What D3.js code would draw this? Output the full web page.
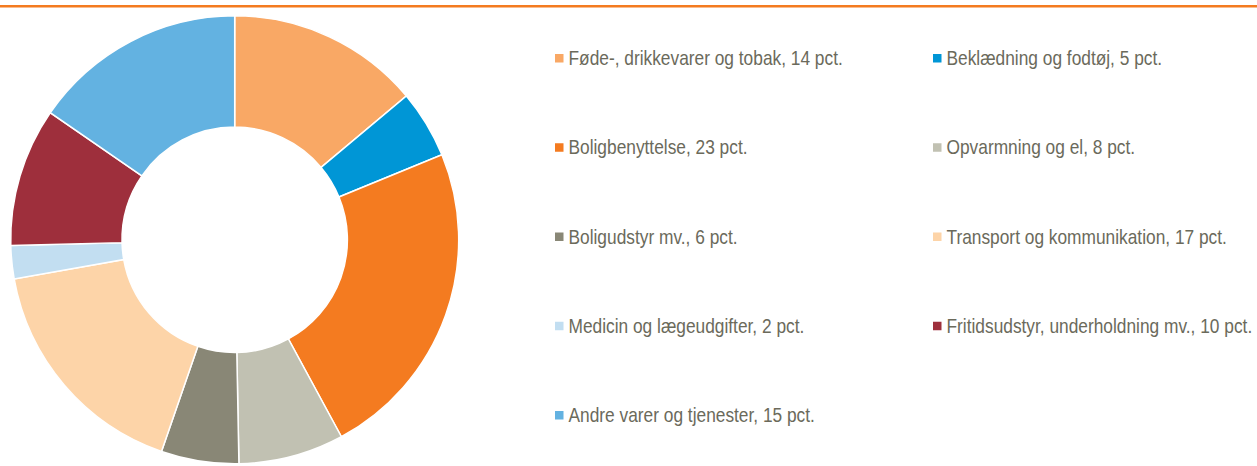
<!DOCTYPE html>
<html>
<head>
<meta charset="utf-8">
<script src="https://cdn.jsdelivr.net/npm/d3@7"></script>
<style>
  body { margin: 0; background: #fff; }
  .legend text { font-family: "Liberation Sans", Arial, sans-serif; }
</style>
</head>
<body>
<div id="chart"></div>
<script>
// forbrugsandele
const categories = [
    "Føde-, drikkevarer og tobak",
    "Beklædning og fodtøj",
    "Boligbenyttelse",
    "Opvarmning og el",
    "Boligudstyr mv.",
    "Transport og kommunikation",
    "Medicin og lægeudgifter",
    "Fritidsudstyr, underholdning mv.",
    "Andre varer og tjenester"
];
const shares = [13.9, 4.9, 23.3, 7.6, 5.6, 16.9, 2.4, 10.0, 15.4];
const labelPct = [14, 5, 23, 8, 6, 17, 2, 10, 15];
const colors = ["#F9A865", "#0096D6", "#F47B20", "#C1C1B2", "#898776",
                "#FDD4A8", "#C2DEF1", "#9E2F3C", "#63B2E1"];

const width = 1257, height = 466;
const cx = 234.7, cy = 239.8;
const outerR = 224, innerR = 112.7;

const svg = d3.select("#chart")
    .append("svg")
    .attr("width", width)
    .attr("height", height);

// orange line at top
svg.append("rect")
    .attr("x", 0).attr("y", 5)
    .attr("width", width).attr("height", 2.5)
    .attr("fill", "#F47B20");

const pie = d3.pie().sort(null).value(d => d);
const arc = d3.arc().innerRadius(innerR).outerRadius(outerR);

const g = svg.append("g").attr("transform", `translate(${cx},${cy})`);

g.selectAll("path")
    .data(pie(shares))
    .join("path")
    .attr("d", arc)
    .attr("fill", (d, i) => colors[i])
    .attr("stroke", "#fff")
    .attr("stroke-width", 1.5);

// legend, 2 columns
const colX = d3.scaleOrdinal().domain([0, 1]).range([555, 933]);
const rowY = d3.scaleLinear().domain([0, 4]).range([65, 422]);

const legend = svg.append("g").attr("class", "legend");

const items = legend.selectAll("g")
    .data(categories)
    .join("g")
    .attr("transform", (d, i) => `translate(${colX(i % 2)},${rowY(Math.floor(i / 2))})`);

items.append("rect")
    .attr("x", 0)
    .attr("y", -11)
    .attr("width", 8.5)
    .attr("height", 8.5)
    .attr("fill", (d, i) => colors[i]);

// the original font is a narrow one, so squeeze it
items.append("text")
    .attr("transform", "translate(13.5,0) scale(0.845,1)")
    .attr("font-size", 20.5)
    .attr("fill", "#6B6A5B")
    .text((d, i) => `${d}, ${labelPct[i]} pct.`);
</script>
</body>
</html>
